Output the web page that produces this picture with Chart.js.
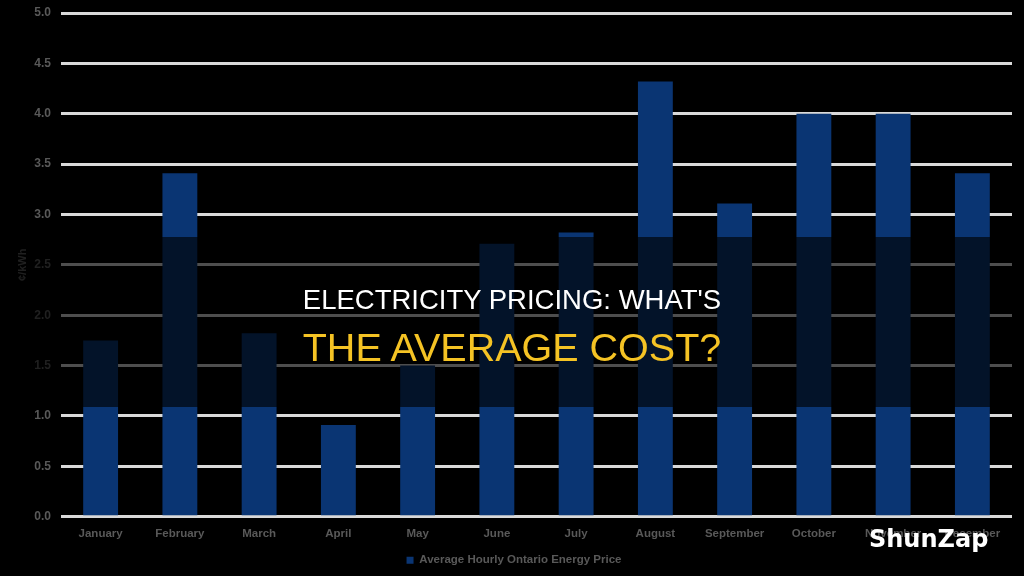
<!DOCTYPE html>
<html>
<head>
<meta charset="utf-8">
<script src="https://cdn.jsdelivr.net/npm/chart.js@4"></script>
<style>
  html, body { margin: 0; padding: 0; background: #000; }
  #wrap { position: relative; width: 1024px; height: 576px; overflow: hidden; }
  #band {
    position: absolute; left: 0; top: 237px; width: 1024px; height: 170px;
    background: rgba(0, 0, 0, 0.64);
  }
  .title {
    position: absolute; left: 0; width: 1024px; text-align: center;
    font-family: "Liberation Sans", Arial, sans-serif; white-space: nowrap;
  }
  #t1 { top: 284px; font-size: 27.5px; color: #ffffff; }
  #t2 { top: 325px; font-size: 39.5px; color: #f5c324; }
  #brand {
    position: absolute; left: 869px; top: 525px;
    font-family: "DejaVu Sans", sans-serif; font-weight: bold; font-size: 24px; color: #ffffff;
  }
</style>
</head>
<body>
<div id="wrap">
  <canvas id="chart" width="1024" height="576"></canvas>
  <div id="band"></div>
  <div class="title" id="t1">ELECTRICITY PRICING: WHAT'S</div>
  <div class="title" id="t2">THE AVERAGE COST?</div>
  <div id="brand">ShunZap</div>
</div>
<script>
// Monthly average price
const months = ['January', 'February', 'March', 'April', 'May', 'June', 'July', 'August', 'September', 'October', 'November', 'December'];
const avgPrice = [1.75, 3.41, 1.82, 0.91, 1.50, 2.71, 2.82, 4.32, 3.11, 4.00, 4.00, 3.41];
const seriesName = 'Average Hourly Ontario Energy Price';
const yTitle = '¢/kWh';

const labelGrey = '#595959';
const navy = '#0a3573';

new Chart(document.getElementById('chart'), {
  type: 'bar',
  data: {
    labels: months,
    datasets: [{
      label: seriesName,
      data: avgPrice,
      backgroundColor: navy,
      borderWidth: 0,
      categoryPercentage: 1,
      barPercentage: 0.44
    }]
  },
  options: {
    responsive: false,
    animation: false,
    layout: { padding: { top: 13, right: 12, left: 16, bottom: 0 } },
    plugins: {
      tooltip: { enabled: false },
      legend: {
        position: 'bottom',
        labels: {
          boxWidth: 7,
          boxHeight: 7,
          padding: 4,
          color: labelGrey,
          font: { family: 'Liberation Sans', size: 11.5, weight: 'bold' }
        }
      }
    },
    scales: {
      x: {
        grid: { display: false, drawTicks: false },
        border: { display: false },
        ticks: {
          color: labelGrey,
          padding: 10,
          maxRotation: 0,
          font: { family: 'Liberation Sans', size: 11.5, weight: 'bold' }
        }
      },
      y: {
        min: 0,
        max: 5,
        afterFit: function(scale) {
          scale.width = 45;
          scale.paddingTop = 0;  // let the 5.0 gridline sit near the top edge
        },
        grid: { color: '#d9d9d9', lineWidth: 3, drawTicks: false },
        border: { display: false },
        title: {
          display: true,
          text: yTitle,
          color: labelGrey,
          padding: 0,
          font: { family: 'Liberation Sans', size: 11, weight: 'bold' }
        },
        ticks: {
          stepSize: 0.5,
          padding: 10,
          color: labelGrey,
          font: { family: 'Liberation Sans', size: 12, weight: 'bold' },
          callback: function(value) { return value.toFixed(1); }
        }
      }
    }
  }
});
</script>
</body>
</html>
